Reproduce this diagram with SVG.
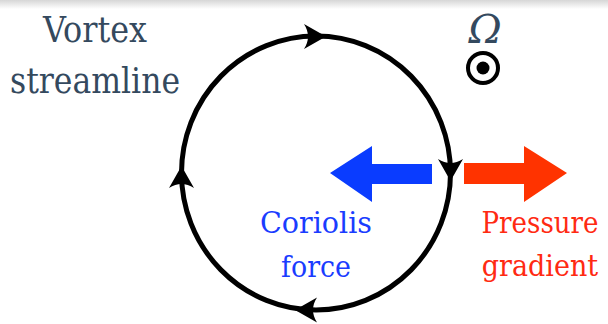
<svg xmlns="http://www.w3.org/2000/svg" width="608" height="324" viewBox="0 0 608 324">
  <defs>
    <linearGradient id="shade" x1="0" y1="0" x2="0" y2="1">
      <stop offset="0" stop-color="#d6d6d6"/>
      <stop offset="1" stop-color="#ffffff"/>
    </linearGradient>
    <path id="head" d="M0,0 L-22,-12.5 Q-14,0 -22,12.5 Z" fill="#000"/>
    <style>
      text { font-family: "DejaVu Serif", serif; text-anchor: middle; }
      .slate { fill: #34495e; }
      .blue { fill: #1a3cff; }
      .red { fill: #ff2a12; }
    </style>
  </defs>
  <rect x="0" y="0" width="608" height="324" fill="#ffffff"/>
  <rect x="0" y="0" width="608" height="9" fill="url(#shade)"/>

  <g id="streamline">
    <ellipse cx="316" cy="173" rx="134.5" ry="137" fill="none" stroke="#000" stroke-width="5"/>
    <use href="#head" transform="translate(326,36.5)"/>
    <use href="#head" transform="translate(450.5,181) rotate(90)"/>
    <use href="#head" transform="translate(295,310) rotate(180)"/>
    <use href="#head" transform="translate(181.5,166) rotate(-90)"/>
  </g>

  <g id="vortex-label">
    <text class="slate" x="95" y="41.5" font-size="35" textLength="104" lengthAdjust="spacingAndGlyphs">Vortex</text>
    <text class="slate" x="95" y="93" font-size="35" textLength="170" lengthAdjust="spacingAndGlyphs">streamline</text>
  </g>

  <g id="omega">
    <text class="slate" x="485" y="43" font-size="40" font-style="italic">Ω</text>
    <circle cx="483" cy="68" r="15" fill="none" stroke="#000" stroke-width="4"/>
    <circle cx="483" cy="68" r="6.5" fill="#000"/>
  </g>

  <g id="coriolis">
    <polygon points="330,173 372,146 372,164 432,164 432,184 372,184 372,202" fill="#0a3cff"/>
    <text class="blue" x="316" y="233" font-size="30" textLength="112" lengthAdjust="spacingAndGlyphs">Coriolis</text>
    <text class="blue" x="316" y="277" font-size="30" textLength="70" lengthAdjust="spacingAndGlyphs">force</text>
  </g>

  <g id="pressure">
    <polygon points="567,173 524,146 524,163 464,163 464,184 524,184 524,202" fill="#ff3300"/>
    <text class="red" transform="translate(540,233) scale(0.87,1)" x="0" y="0" font-size="30">Pressure</text>
    <text class="red" transform="translate(540,276) scale(0.9,1)" x="0" y="0" font-size="30">gradient</text>
  </g>
</svg>
